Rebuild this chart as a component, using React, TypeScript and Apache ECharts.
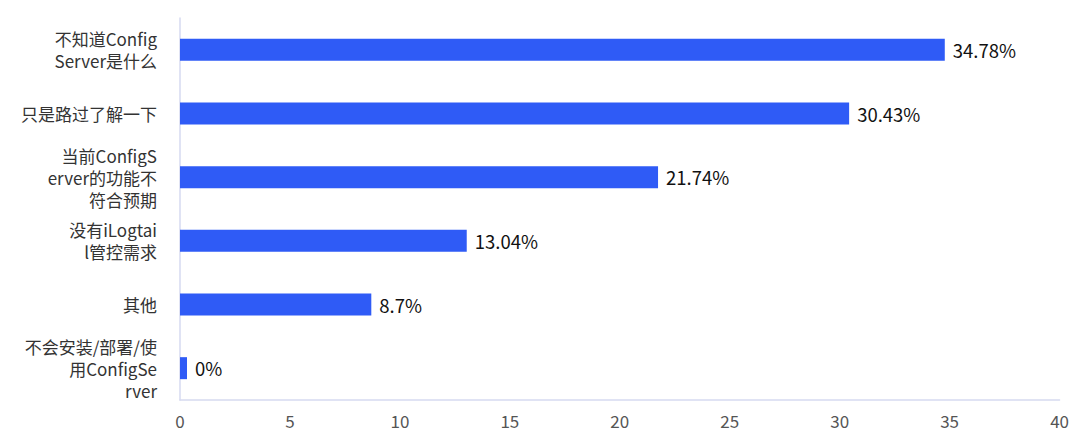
import React, { useEffect, useRef } from "react";
import * as echarts from "echarts";

const categories = [
  "不知道Config\nServer是什么",
  "只是路过了解一下",
  "当前ConfigS\nerver的功能不\n符合预期",
  "没有iLogtai\nl管控需求",
  "其他",
  "不会安装/部署/使\n用ConfigSe\nrver",
];
const values = [34.78, 30.43, 21.74, 13.04, 8.7, 0];
const xTicks = { min: 0, max: 40, interval: 5 };

const FONT = '"Noto Sans CJK SC", "Noto Sans", sans-serif';

export default function App() {
  const ref = useRef<HTMLDivElement>(null);
  useEffect(() => {
    if (!ref.current) return;
    const chart = echarts.init(ref.current, undefined, { renderer: "svg" });
    chart.setOption({
      animation: false,
      grid: { left: 172, right: 12, top: 10, bottom: 40, containLabel: false },
      xAxis: {
        type: "value",
        min: xTicks.min,
        max: xTicks.max,
        interval: xTicks.interval,
        axisLine: { show: true, lineStyle: { color: "#d6daf0", width: 1.5 } },
        axisTick: { show: false },
        splitLine: { show: false },
        axisLabel: { color: "#555", fontSize: 17, fontFamily: FONT, margin: 12 },
      },
      yAxis: {
        type: "category",
        inverse: true,
        data: categories,
        axisLine: { show: true, lineStyle: { color: "#d6daf0", width: 1.5 } },
        axisTick: { show: false },
        axisLabel: {
          color: "#333",
          fontSize: 17,
          lineHeight: 22,
          fontFamily: FONT,
          margin: 23,
          align: "right",
        },
      },
      series: [
        {
          type: "bar",
          data: values,
          barWidth: 22,
          barMinHeight: 7,
          itemStyle: { color: "#2f5bf6" },
          label: {
            show: true,
            position: "right",
            distance: 8,
            color: "#111",
            fontSize: 18.5,
            fontFamily: FONT,
            formatter: (p: any) => `${p.value}%`,
          },
        },
      ],
    });
    return () => chart.dispose();
  }, []);
  return <div ref={ref} style={{ width: 1064, height: 432 }} />;
}
